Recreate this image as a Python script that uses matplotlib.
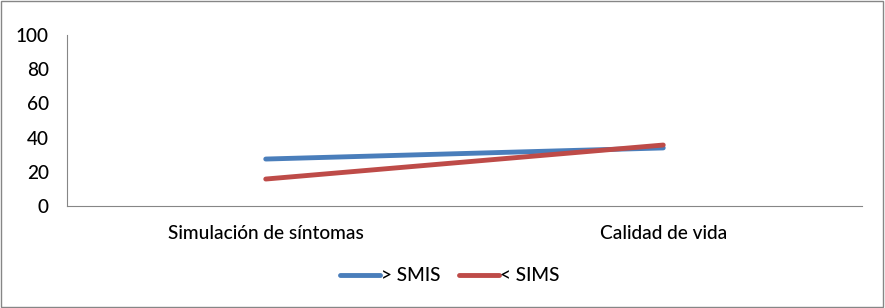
import numpy as np
import matplotlib.pyplot as plt

# data
categorias = ["Simulación de síntomas", "Calidad de vida"]
smis_mayor = [27.5, 34]
sims_menor = [15.8, 35.7]
yticks = [0, 20, 40, 60, 80, 100]

plt.rcParams['font.family'] = ['Lato', 'DejaVu Sans']
plt.rcParams['font.weight'] = 'medium'

fig = plt.figure(figsize=(8.85, 3.08), dpi=100)
ax = fig.add_axes([0.0757, 0.331, 0.8983, 0.555])

x = np.arange(len(categorias))
ax.plot(x, smis_mayor, color="#4a7ebb", lw=3.5, solid_capstyle="round", label="> SMIS")
ax.plot(x, sims_menor, color="#be4b48", lw=3.5, solid_capstyle="round", label="< SIMS")

ax.set_xlim(-0.5, 1.5)
ax.set_ylim(0, 100)
ax.set_yticks(yticks)
ax.set_xticks(x)
ax.set_xticklabels(categorias)
ax.tick_params(length=0, labelsize=13.7, labelcolor="black")
ax.tick_params(axis="y", pad=13)
ax.tick_params(axis="x", pad=14)

for s in ["top", "right"]:
    ax.spines[s].set_visible(False)
for s in ["left", "bottom"]:
    ax.spines[s].set_color("#868686")

leg = fig.legend(loc="center", bbox_to_anchor=(0.508, 0.105), ncol=2, frameon=False,
                 handlelength=2.1, handletextpad=0.05, columnspacing=1.0,
                 prop={"size": 13.7})

fig.patches.append(plt.Rectangle((0.001, 0.002), 0.997, 0.996, transform=fig.transFigure,
                                 fill=False, edgecolor="#868686", lw=1))

fig.savefig("out.png", dpi=100)
